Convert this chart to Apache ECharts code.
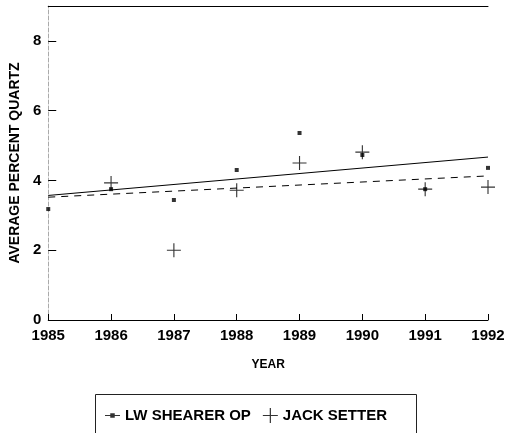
<!DOCTYPE html>
<html lang="en">
<head>
	<meta charset="UTF-8">
	<title>Average percent quartz</title>
	<script src="https://cdn.jsdelivr.net/npm/echarts@6/dist/echarts.min.js"></script>
	<style>
		html,body{margin:0;height:100%;background:#fff;}
	</style>
</head>
<body>
	<div id="chart" style="width:508px; height:433px;"></div>
	<script>
	// years on the x axis
	var years = [1985, 1986, 1987, 1988, 1989, 1990, 1991, 1992];
	// LW SHEARER OP averages (small squares)
	var shearerVals = [3.18, 3.75, 3.44, 4.30, 5.36, 4.73, 3.75, 4.36];
	// JACK SETTER averages (plus marks), no reading for 1985
	var setterYears = [1986, 1987, 1988, 1989, 1990, 1991, 1992];
	var setterVals = [3.93, 2.0, 3.72, 4.50, 4.81, 3.75, 3.81];
	// fitted trend lines, ends at 1985 and 1992
	var trendYears = [1985, 1992];
	var shearerTrend = [3.57, 4.67];
	var setterTrend = [3.52, 4.13];

	function pairs(xs, ys){
		var out = [];
		for (var i = 0; i < xs.length; i++) {
			out.push([xs[i], ys[i]]);
		}
		return out;
	}

	var font = '"Liberation Sans", Arial, sans-serif';
	var plusPath = 'path://M4.6,0H5.4V4.6H10V5.4H5.4V10H4.6V5.4H0V4.6H4.6Z';
	var dashDot = 'path://M0,4.6H3.5V3.5H6.5V4.6H10V5.4H6.5V6.5H3.5V5.4H0Z';

	var myChart = echarts.init(document.getElementById('chart'));
	var option = {
		animation: false,
		backgroundColor: '#fff',
		grid: {left: 47, right: 20, top: 6, bottom: 113},
		legend: {
			data: [
				{name: 'LW SHEARER OP', icon: dashDot},
				{name: 'JACK SETTER', icon: plusPath}
			],
			left: 100, top: 403,
			itemWidth: 15, itemHeight: 15, itemGap: 12,
			textStyle: {color: '#000', fontSize: 15, fontWeight: 'bold', fontFamily: font},
			selectedMode: false
		},
		graphic: [{
			type: 'rect',
			left: 93, top: 392,
			shape: {width: 321, height: 60},
			style: {fill: 'none', stroke: '#222', lineWidth: 1}
		}],
		xAxis: [{
			type: 'value',
			min: 1985, max: 1992, interval: 1,
			name: 'YEAR',
			nameLocation: 'middle',
			nameGap: 39,
			nameTextStyle: {color: '#000', fontSize: 12, fontWeight: 'bold', fontFamily: font},
			axisLine: {lineStyle: {color: '#000', width: 1}},
			axisTick: {inside: true, length: 6, lineStyle: {color: '#000'}},
			axisLabel: {color: '#000', fontSize: 15, fontWeight: 'bold', fontFamily: font, margin: 8,
				formatter: function(v){ return String(v); }},
			splitLine: {show: false}
		}, {
			type: 'value',
			position: 'top',
			min: 1985, max: 1992,
			axisLine: {show: true, onZero: false, lineStyle: {color: '#000', width: 1}},
			axisTick: {show: false},
			axisLabel: {show: false},
			splitLine: {show: false}
		}],
		yAxis: {
			type: 'value',
			min: 0, max: 9, interval: 2,
			name: 'AVERAGE PERCENT QUARTZ',
			nameLocation: 'middle',
			nameRotate: 90,
			nameGap: 20,
			nameTextStyle: {color: '#000', fontSize: 14, fontWeight: 'bold', fontFamily: font},
			axisLine: {show: true, lineStyle: {color: '#aaa', width: 1, type: 'dashed'}},
			axisTick: {inside: true, length: 8, lineStyle: {color: '#000'}},
			axisLabel: {color: '#000', fontSize: 15, fontWeight: 'bold', fontFamily: font, margin: 7,
				showMaxLabel: false,
				formatter: function(v){ return v === 9 ? '' : String(v); }},
			splitLine: {show: false}
		},
		series: [{
			name: 'LW SHEARER OP',
			type: 'scatter',
			symbol: 'rect',
			symbolSize: 4,
			itemStyle: {color: '#000'},
			data: pairs(years, shearerVals)
		}, {
			name: 'JACK SETTER',
			type: 'scatter',
			symbol: plusPath,
			symbolSize: 14,
			itemStyle: {color: '#000'},
			data: pairs(setterYears, setterVals)
		}, {
			name: 'shearer trend',
			type: 'line',
			showSymbol: false,
			symbol: 'none',
			lineStyle: {color: '#000', width: 1},
			data: pairs(trendYears, shearerTrend)
		}, {
			name: 'setter trend',
			type: 'line',
			showSymbol: false,
			symbol: 'none',
			lineStyle: {color: '#000', width: 1, type: [7, 6]},
			data: pairs(trendYears, setterTrend)
		}]
	};
	myChart.setOption(option);
	</script>
</body>
</html>
